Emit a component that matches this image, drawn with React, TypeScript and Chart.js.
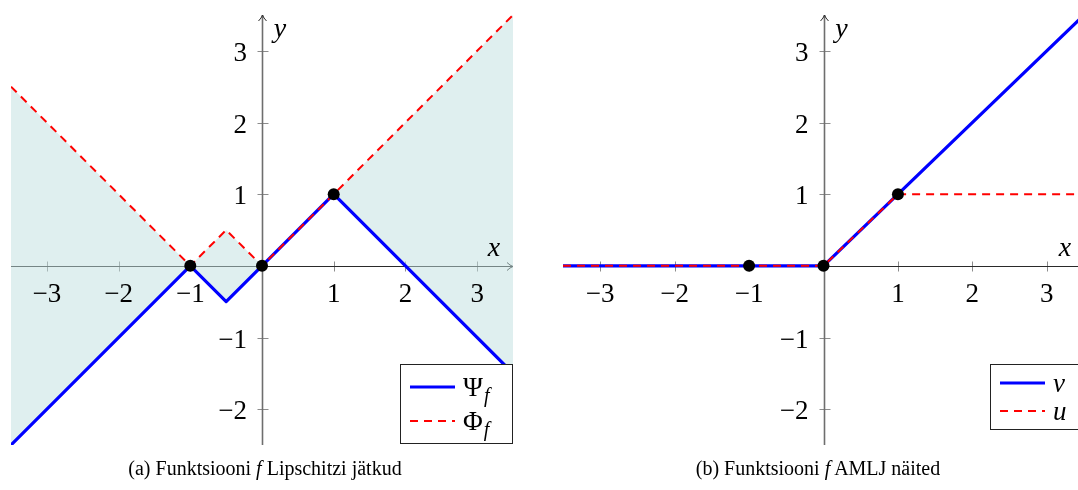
import React, { useEffect, useRef } from "react";
import { Chart, registerables } from "chart.js";

Chart.register(...registerables);

// Axis window shared by both panels
const xMin = -3.5;
const xMax = 3.5;
const yMin = -2.5;
const yMax = 3.5;
const xTickValues = [-3, -2, -1, 1, 2, 3];
const yTickValues = [-2, -1, 1, 2, 3];

// (a) Lipschitz extensions: lower Ψ_f and upper Φ_f
const lipKnotsX = [-3.5, -1, -0.5, 0, 1, 3.5];
const psiValues = [-2.5, 0, -0.5, 0, 1, -1.5];
const phiValues = [2.5, 0, 0.5, 0, 1, 3.5];

// (b) AMLJ examples v and u
const vKnotsX = [-3.5, 0, 3.5];
const vValues = [0, 0, 3.5];
const uKnotsX = [-3.5, 0, 1, 3.5];
const uValues = [0, 0, 1, 1];

// points where f is given
const markX = [-1, 0, 1];
const markY = [0, 0, 1];

const BLUE = "#0000ff";
const RED = "#ff0000";
const SERIF = '"Liberation Serif", "DejaVu Serif", serif';

const pts = (xs: number[], ys: number[]) => xs.map((x, i) => ({ x, y: ys[i] }));
const fmt = (v: number) => (v < 0 ? "\u2212" + Math.abs(v) : String(v));

type LegendEntry = { symbol: string; italic: boolean; sub?: string; color: string; dash: number[]; width: number; y: number };
type LegendBox = { left: number; top: number; width: number; height: number; entries: LegendEntry[] };

function midAxes(legend: LegendBox) {
  return {
    id: "midAxes",
    beforeDatasetsDraw(chart: any) {
      const { ctx, chartArea: a, scales } = chart;
      const xs = scales.x;
      const ys = scales.y;
      const x0 = Math.round(xs.getPixelForValue(0)) + 0.5;
      const y0 = Math.round(ys.getPixelForValue(0)) + 0.5;
      ctx.save();
      // tick marks crossing the axes
      ctx.strokeStyle = "#8c8c8c";
      ctx.lineWidth = 1;
      ctx.beginPath();
      xTickValues.forEach((v) => {
        const px = Math.round(xs.getPixelForValue(v)) + 0.5;
        ctx.moveTo(px, y0 - 5);
        ctx.lineTo(px, y0 + 5);
      });
      yTickValues.forEach((v) => {
        const py = Math.round(ys.getPixelForValue(v)) + 0.5;
        ctx.moveTo(x0 - 5, py);
        ctx.lineTo(x0 + 6, py);
      });
      ctx.stroke();
      // axis lines with arrow tips
      ctx.strokeStyle = "#2a2a2a";
      ctx.lineWidth = 1;
      ctx.beginPath();
      ctx.moveTo(a.left, y0);
      ctx.lineTo(a.right, y0);
      ctx.stroke();
      ctx.strokeStyle = "#6e6e6e";
      ctx.lineWidth = 1.6;
      ctx.beginPath();
      ctx.moveTo(x0, a.bottom);
      ctx.lineTo(x0, a.top);
      ctx.stroke();
      ctx.strokeStyle = "#2a2a2a";
      ctx.lineWidth = 1;
      ctx.beginPath();
      ctx.moveTo(a.right - 6, y0 - 4);
      ctx.quadraticCurveTo(a.right - 3, y0 - 1, a.right, y0);
      ctx.quadraticCurveTo(a.right - 3, y0 + 1, a.right - 6, y0 + 4);
      ctx.moveTo(x0 - 4, a.top + 6);
      ctx.quadraticCurveTo(x0 - 1, a.top + 3, x0, a.top);
      ctx.quadraticCurveTo(x0 + 1, a.top + 3, x0 + 4, a.top + 6);
      ctx.stroke();
      ctx.restore();
    },
    afterDatasetsDraw(chart: any) {
      const { ctx, chartArea: a, scales } = chart;
      const xs = scales.x;
      const ys = scales.y;
      const x0 = xs.getPixelForValue(0);
      const y0 = ys.getPixelForValue(0);
      ctx.save();
      ctx.fillStyle = "#000";
      ctx.font = `27px ${SERIF}`;
      ctx.textAlign = "center";
      ctx.textBaseline = "alphabetic";
      xTickValues.forEach((v) => ctx.fillText(fmt(v), xs.getPixelForValue(v), y0 + 36));
      ctx.textAlign = "right";
      yTickValues.forEach((v) => ctx.fillText(fmt(v), x0 - 15, ys.getPixelForValue(v) + 10));
      // axis names
      ctx.font = `italic 28px ${SERIF}`;
      ctx.textAlign = "center";
      ctx.fillText("x", a.right - 19, y0 - 10);
      ctx.fillText("y", x0 + 18, a.top + 22);

      // legend
      const L = legend;
      ctx.fillStyle = "#fff";
      ctx.fillRect(L.left, L.top, L.width, L.height);
      ctx.strokeStyle = "#222";
      ctx.lineWidth = 1;
      ctx.strokeRect(L.left + 0.5, L.top + 0.5, L.width, L.height);
      L.entries.forEach((e) => {
        ctx.strokeStyle = e.color;
        ctx.lineWidth = e.width;
        ctx.setLineDash(e.dash);
        ctx.beginPath();
        ctx.moveTo(L.left + 10, L.top + e.y);
        ctx.lineTo(L.left + 55, L.top + e.y);
        ctx.stroke();
        ctx.setLineDash([]);
        ctx.fillStyle = "#000";
        ctx.textAlign = "left";
        ctx.font = `${e.italic ? "italic " : ""}27px ${SERIF}`;
        const tx = L.left + 63;
        ctx.fillText(e.symbol, tx, L.top + e.y + 9);
        if (e.sub) {
          const w = ctx.measureText(e.symbol).width;
          ctx.font = `italic 20px ${SERIF}`;
          ctx.fillText(e.sub, tx + w + 1, L.top + e.y + 15);
        }
      });
      ctx.restore();
    },
  };
}

type PanelProps = {
  left: number;
  width: number;
  padding: { left: number; right: number; top: number; bottom: number };
  build: () => any[];
  legend: LegendBox;
};

function Panel({ left, width, padding, build, legend }: PanelProps) {
  const ref = useRef<HTMLCanvasElement>(null);
  useEffect(() => {
    const chart = new Chart(ref.current as HTMLCanvasElement, {
      type: "line",
      data: { datasets: build() },
      options: {
        animation: false,
        responsive: false,
        devicePixelRatio: 1,
        layout: { padding },
        scales: {
          x: { type: "linear", min: xMin, max: xMax, display: false },
          y: { type: "linear", min: yMin, max: yMax, display: false },
        },
        plugins: { legend: { display: false }, tooltip: { enabled: false } },
        elements: { line: { tension: 0 } },
      } as any,
      plugins: [midAxes(legend)],
    });
    return () => chart.destroy();
  }, []);
  return (
    <canvas
      ref={ref}
      width={width}
      height={490}
      style={{ position: "absolute", left, top: 0, width, height: 490 }}
    />
  );
}

const markDataset = () => ({
  label: "marks",
  data: pts(markX, markY),
  showLine: false,
  pointRadius: 6,
  pointBackgroundColor: "#000",
  pointBorderColor: "#000",
  pointBorderWidth: 0,
  order: 0,
});

const buildA = () => [
  markDataset(),
  {
    label: "Φf",
    data: pts(lipKnotsX, phiValues),
    borderColor: RED,
    borderWidth: 2,
    borderDash: [8, 6],
    pointRadius: 0,
    fill: false,
    order: 1,
  },
  {
    label: "Ψf",
    data: pts(lipKnotsX, psiValues),
    borderColor: BLUE,
    borderWidth: 3.2,
    borderJoinStyle: "round",
    pointRadius: 0,
    fill: { target: 1, above: "rgba(191,223,223,0.5)", below: "rgba(191,223,223,0.5)" },
    order: 2,
  },
];

const buildB = () => [
  markDataset(),
  {
    label: "u",
    data: pts(uKnotsX, uValues),
    borderColor: RED,
    borderWidth: 2,
    borderDash: [8, 6],
    pointRadius: 0,
    fill: false,
    order: 1,
  },
  {
    label: "v",
    data: pts(vKnotsX, vValues),
    borderColor: BLUE,
    borderWidth: 3.2,
    borderJoinStyle: "round",
    pointRadius: 0,
    fill: false,
    order: 2,
  },
];

const legendA: LegendBox = {
  left: 400,
  top: 364,
  width: 112,
  height: 79,
  entries: [
    { symbol: "Ψ", italic: false, sub: "f", color: BLUE, dash: [], width: 3.2, y: 23 },
    { symbol: "Φ", italic: false, sub: "f", color: RED, dash: [8, 6], width: 2, y: 57 },
  ],
};

const legendB: LegendBox = {
  left: 450,
  top: 364,
  width: 94,
  height: 65,
  entries: [
    { symbol: "v", italic: true, color: BLUE, dash: [], width: 3.2, y: 19 },
    { symbol: "u", italic: true, color: RED, dash: [8, 6], width: 2, y: 47 },
  ],
};

const captionStyle = (center: number): React.CSSProperties => ({
  position: "absolute",
  left: center - 250,
  width: 500,
  top: 455,
  textAlign: "center",
  fontFamily: SERIF,
  fontSize: 20,
  lineHeight: "26px",
  color: "#000",
  whiteSpace: "nowrap",
});

export default function App() {
  return (
    <div
      style={{
        position: "absolute",
        left: 0,
        top: 0,
        width: 1078,
        height: 490,
        overflow: "hidden",
        background: "#fff",
      }}
    >
      <Panel
        left={0}
        width={540}
        padding={{ left: 11, right: 27, top: 15, bottom: 45 }}
        build={buildA}
        legend={legendA}
      />
      <Panel
        left={540}
        width={560}
        padding={{ left: 23, right: 16, top: 15, bottom: 45 }}
        build={buildB}
        legend={legendB}
      />
      <div style={captionStyle(265)}>
        (a) Funktsiooni <i>f</i> Lipschitzi jätkud
      </div>
      <div style={captionStyle(818)}>
        (b) Funktsiooni <i>f</i> AMLJ näited
      </div>
    </div>
  );
}
